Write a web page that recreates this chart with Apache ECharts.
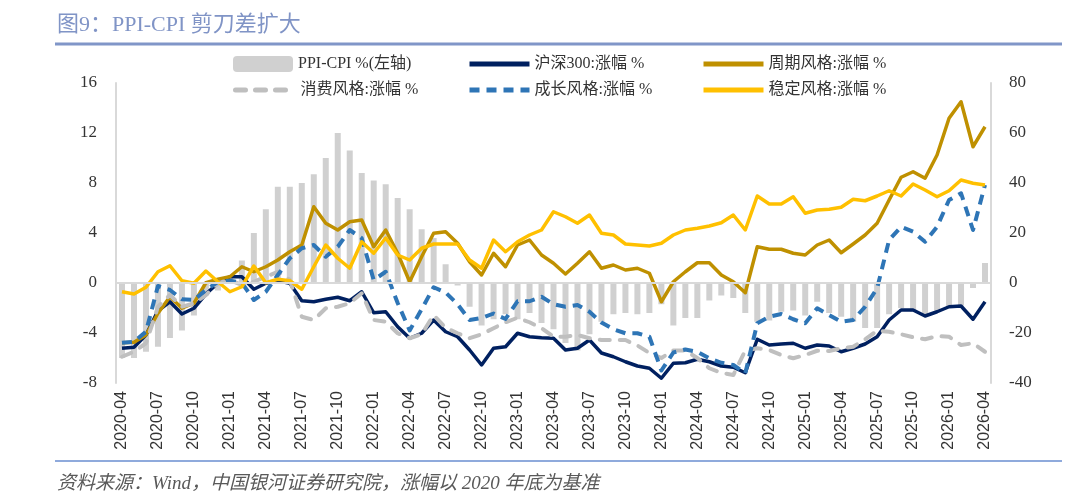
<!DOCTYPE html>
<html>
<head>
<meta charset="utf-8">
<script src="https://cdn.jsdelivr.net/npm/echarts@6/dist/echarts.min.js"></script>
<style>
  html, body { margin: 0; padding: 0; background: #fff; }
  #chart { width: 1080px; height: 500px; }
</style>
</head>
<body>
<div id="chart"></div>
<script>
// months 2020-04 .. 2026-04
var months = [];
for (var y = 2020; y <= 2026; y++) {
    for (var m = 1; m <= 12; m++) {
        if ((y === 2020 && m < 4) || (y === 2026 && m > 4)) continue;
        months.push(y + '-' + (m < 10 ? '0' + m : m));
    }
}

var leftTicks = [-8, -4, 0, 4, 8, 12, 16];
var rightTicks = [-40, -20, 0, 20, 40, 60, 80];

// PPI-CPI, left axis
var ppiCpi = [-6.0, -6.0, -5.5, -5.1, -4.4, -3.8, -2.6, -1.0, -0.6, 0.6, 1.8, 4.0,
    5.9, 7.7, 7.7, 8.0, 8.7, 10.0, 12.0, 10.6, 8.8, 8.2, 7.9, 6.8,
    5.9, 4.3, 3.6, 1.5, -0.2, -1.9, -3.4, -2.9, -2.5, -2.9, -2.4, -3.2,
    -3.7, -4.8, -5.4, -4.1, -3.1, -2.5, -2.4, -2.5, -2.4, -1.7, -3.4, -2.8,
    -2.8, -1.4, -1.0, -1.2, -2.4, -3.1, -3.0, -2.3, -2.2, -2.6, -1.5, -2.4,
    -2.7, -3.1, -3.6, -3.6, -2.5, -2.0, -2.3, -2.6, -2.2, -2.0, -1.8, -0.4, 1.6];

// right axis, %
var hs300 = [-26.1, -25.7, -20.8, -11.1, -7.5, -12.4, -10.1, -4.4, -0.1, 2.5, 2.5, -2.5,
    -0.1, 0.9, -0.1, -7.1, -7.5, -6.5, -5.7, -7.1, -3.5, -11.9, -11.5, -17.5,
    -22.1, -20.1, -14.8, -19.5, -21.5, -26.8, -32.8, -26.1, -25.5, -20.1, -21.5, -21.9,
    -22.1, -26.8, -26.1, -22.8, -28.0, -29.5, -31.5, -33.2, -34.1, -38.1, -32.1, -31.9,
    -30.5, -31.5, -33.2, -33.7, -35.9, -22.5, -24.8, -24.4, -24.1, -26.1, -24.8, -25.2,
    -27.5, -26.1, -24.4, -21.5, -14.8, -10.8, -10.8, -13.2, -11.5, -9.5, -9.2, -14.5, -7.5];

var cyclical = [-23.9, -23.7, -20.8, -12.1, -5.5, -10.1, -8.1, 0.1, 1.5, 2.5, 6.5, 4.5,
    6.5, 9.2, 12.5, 15.2, 30.5, 23.9, 21.2, 24.5, 25.2, 14.5, 21.2, 11.9,
    0.5, 10.5, 19.9, 20.5, 15.9, 8.5, 3.2, 11.9, 6.5, 15.2, 17.2, 11.2,
    7.9, 3.6, 7.9, 12.5, 5.9, 7.2, 5.2, 5.9, 3.9, -7.5, 0.5, 4.5,
    8.1, 8.1, 3.2, 0.5, -3.9, 14.5, 13.5, 13.5, 11.9, 11.2, 15.2, 17.2,
    12.1, 15.6, 19.2, 23.9, 33.2, 42.3, 44.5, 41.9, 51.2, 65.9, 72.5, 54.5, 62.5];

var consumer = [-29.5, -27.5, -24.1, -9.5, -4.8, -9.5, -8.1, -4.8, -0.1, 1.2, -0.8, 0.5,
    2.5, 4.5, 1.2, -13.5, -14.8, -10.1, -9.5, -8.1, -4.1, -14.8, -15.5, -20.1,
    -22.1, -20.5, -12.8, -17.9, -20.1, -22.1, -20.5, -18.1, -15.7, -13.9, -15.7, -18.1,
    -21.5, -21.5, -20.8, -22.1, -22.8, -22.8, -22.8, -25.0, -28.0, -30.0, -27.0, -27.0,
    -30.0, -34.1, -35.9, -36.8, -27.0, -26.1, -26.8, -28.8, -30.1, -28.8, -27.1, -27.2,
    -26.1, -25.5, -22.5, -19.1, -19.5, -20.5, -21.7, -22.5, -21.2, -21.5, -24.8, -24.1, -27.5];

var growth = [-23.9, -23.5, -19.5, -1.2, -2.8, -6.5, -6.8, -2.8, 0.5, 0.9, 0.1, -6.8,
    -3.5, 3.2, 9.9, 13.9, 15.2, 10.5, 14.5, 21.2, 17.9, 1.2, 4.5, -8.0,
    -19.0, -10.5, -1.7, -3.8, -8.5, -14.8, -14.0, -12.2, -14.4, -7.3, -7.3, -5.5,
    -8.5, -9.5, -8.8, -11.5, -15.8, -18.5, -20.1, -20.1, -21.5, -35.0, -27.8, -26.6,
    -27.5, -30.1, -31.9, -32.8, -36.1, -16.1, -13.5, -12.4, -14.5, -16.1, -10.1, -12.8,
    -15.5, -14.8, -9.5, -2.1, 17.2, 22.5, 20.5, 16.5, 22.5, 33.2, 35.9, 21.2, 39.2];

var stable = [-3.5, -4.4, -1.7, 4.5, 6.9, 0.9, -0.1, 4.8, 0.5, -3.5, -1.5, 6.8,
    0.1, 1.5, 0.9, -2.5, 6.5, 15.2, 9.9, 5.9, 16.5, 11.9, 18.0, 11.2,
    9.2, 13.9, 15.6, 15.6, 15.6, 9.2, 5.9, 17.2, 12.5, 16.5, 19.2, 21.2,
    28.5, 26.5, 23.9, 27.2, 19.9, 19.2, 15.6, 15.2, 14.8, 15.9, 19.2, 21.2,
    21.9, 22.8, 24.1, 27.2, 21.2, 34.8, 31.6, 31.6, 34.5, 27.9, 29.2, 29.5,
    30.3, 33.5, 32.9, 34.8, 36.9, 34.8, 39.6, 37.2, 34.5, 36.9, 41.2, 39.9, 39.2];

var serif = '"Liberation Serif", "Noto Sans CJK SC", serif';

var chart = echarts.init(document.getElementById('chart'));

function lineSeries(name, data, color, width, dash, cap) {
    return {
        name: name,
        type: 'line',
        yAxisIndex: 1,
        data: data,
        symbol: 'none',
        lineStyle: {
            color: color,
            width: width,
            type: dash || 'solid',
            cap: cap || 'butt',
            join: 'round'
        },
        itemStyle: { color: color }
    };
}

// one legend per entry so the columns line up like the original
function legendItem(name, left, top, isLine) {
    var item = { name: name };
    if (isLine) {
        item.itemStyle = { opacity: 0 };
        item.lineStyle = { width: 5 };
    }
    return {
        left: left,
        top: top,
        itemWidth: 60,
        itemHeight: 16,
        textStyle: { fontFamily: serif, fontSize: 16, color: '#333' },
        data: [item]
    };
}

var option = {
    animation: false,
    title: [{
        text: '图9：PPI-CPI 剪刀差扩大',
        left: 52,
        top: 9,
        textStyle: { fontFamily: serif, fontSize: 22, fontWeight: 'normal', color: '#8094c6' }
    }, {
        text: '资料来源：Wind，中国银河证券研究院，涨幅以 2020 年底为基准',
        left: 52,
        top: 469,
        textStyle: { fontFamily: serif, fontSize: 19, fontWeight: 'normal', fontStyle: 'italic', color: '#595959' }
    }],
    graphic: [{
        type: 'line',
        shape: { x1: 55, y1: 44, x2: 1062, y2: 44 },
        style: { stroke: '#8096c8', lineWidth: 3 }
    }, {
        type: 'line',
        shape: { x1: 55, y1: 461, x2: 1062, y2: 461 },
        style: { stroke: '#8faadc', lineWidth: 2 }
    }],
    legend: [
        legendItem('PPI-CPI %(左轴)', 228, 51, false),
        legendItem('沪深300:涨幅 %', 462, 51, true),
        legendItem('周期风格:涨幅 %', 696, 51, true),
        legendItem('消费风格:涨幅 %', 228, 77, true),
        legendItem('成长风格:涨幅 %', 462, 77, true),
        legendItem('稳定风格:涨幅 %', 696, 77, true)
    ],
    grid: { left: 116, right: 89, top: 83, bottom: 117 },
    xAxis: {
        type: 'category',
        data: months,
        axisLine: { show: false },
        axisTick: { show: false },
        axisLabel: {
            interval: 2,
            rotate: 90,
            margin: 8,
            fontFamily: '"Liberation Sans", Arial, sans-serif',
            fontSize: 16,
            color: '#333'
        }
    },
    yAxis: [{
        type: 'value',
        min: leftTicks[0],
        max: leftTicks[leftTicks.length - 1],
        interval: 4,
        splitLine: { show: false },
        axisTick: { show: false },
        axisLine: { show: true, lineStyle: { color: '#d9d9d9', width: 2 } },
        axisLabel: { margin: 19, fontFamily: serif, fontSize: 17, color: '#333' }
    }, {
        type: 'value',
        min: rightTicks[0],
        max: rightTicks[rightTicks.length - 1],
        interval: 20,
        splitLine: { show: false },
        axisTick: { show: false },
        axisLine: { show: true, lineStyle: { color: '#d9d9d9', width: 2 } },
        axisLabel: { margin: 18, fontFamily: serif, fontSize: 17, color: '#333' }
    }],
    series: [{
        name: 'PPI-CPI %(左轴)',
        type: 'bar',
        yAxisIndex: 0,
        data: ppiCpi,
        barWidth: 6,
        itemStyle: { color: '#d0d0d0' },
        markLine: {
            silent: true,
            symbol: 'none',
            label: { show: false },
            lineStyle: { color: '#d9d9d9', width: 2, type: 'solid' },
            data: [{ yAxis: 0 }]
        }
    },
        lineSeries('沪深300:涨幅 %', hs300, '#002060', 3.5),
        lineSeries('周期风格:涨幅 %', cyclical, '#bf9000', 3.5),
        lineSeries('消费风格:涨幅 %', consumer, '#bfbfbf', 4, [10, 10], 'round'),
        lineSeries('成长风格:涨幅 %', growth, '#2e75b6', 4, [10, 7]),
        lineSeries('稳定风格:涨幅 %', stable, '#ffc000', 3.5)
    ]
};

chart.setOption(option);
</script>
</body>
</html>
